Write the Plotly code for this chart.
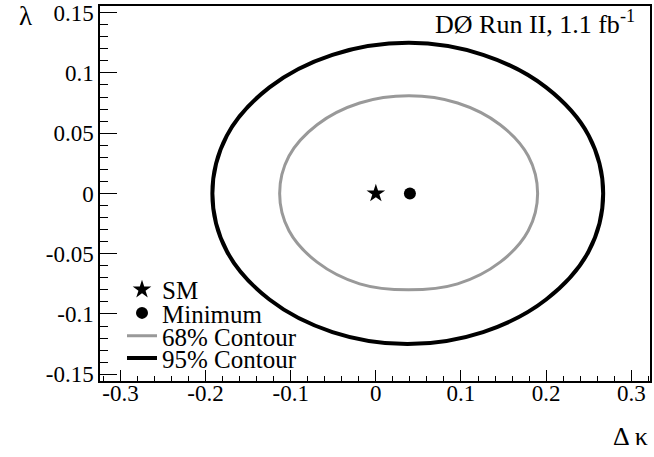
import plotly.graph_objects as go

# 95% contour points (Δκ, λ)
c95_x = [0.267, 0.250, 0.200, 0.126, 0.039, -0.051, -0.125, -0.175, -0.192,
         -0.175, -0.125, -0.051, 0.037, 0.126, 0.200, 0.250, 0.267]
c95_y = [0.0, 0.048, 0.088, 0.115, 0.125, 0.115, 0.088, 0.048, 0.0,
         -0.048, -0.088, -0.115, -0.125, -0.115, -0.088, -0.048, 0.0]

# 68% contour points
c68_x = [0.190, 0.179, 0.146, 0.096, 0.039, -0.019, -0.069, -0.102, -0.113,
         -0.102, -0.069, -0.019, 0.038, 0.096, 0.146, 0.179, 0.190]
c68_y = [0.0, 0.031, 0.057, 0.075, 0.081, 0.075, 0.057, 0.031, 0.0,
         -0.031, -0.057, -0.075, -0.080, -0.075, -0.057, -0.031, 0.0]

sm_point = ([0.0], [0.0])
min_point = ([0.04], [0.0])

x_ticks = [-0.3, -0.2, -0.1, 0, 0.1, 0.2, 0.3]
x_ticktext = ["-0.3", "-0.2", "-0.1", "0", "0.1", "0.2", "0.3"]
y_ticks = [-0.15, -0.1, -0.05, 0, 0.05, 0.1, 0.15]
y_ticktext = ["-0.15", "-0.1", "-0.05", "0", "0.05", "0.1", "0.15"]

FONT = "Liberation Serif"
LEG_FONT = dict(family=FONT, size=25, color="black")

fig = go.Figure()
fig.add_trace(go.Scatter(x=c68_x, y=c68_y, mode="lines", name="68% Contour",
                         line=dict(color="#999999", width=3, shape="spline"),
                         legend="legend3"))
fig.add_trace(go.Scatter(x=c95_x, y=c95_y, mode="lines", name="95% Contour",
                         line=dict(color="black", width=4, shape="spline"),
                         legend="legend4"))
fig.add_trace(go.Scatter(x=sm_point[0], y=sm_point[1], mode="markers", name="SM",
                         marker=dict(symbol="star", size=14, color="black"),
                         legend="legend"))
fig.add_trace(go.Scatter(x=min_point[0], y=min_point[1], mode="markers", name="Minimum",
                         marker=dict(symbol="circle", size=12, color="black"),
                         legend="legend2"))

def leg(y):
    return dict(x=0.04, y=y, xanchor="left", yanchor="middle",
                bgcolor="rgba(0,0,0,0)", font=LEG_FONT, itemwidth=30,
                borderwidth=0)

fig.update_layout(
    width=654, height=457,
    margin=dict(l=100, r=4, t=6, b=76, autoexpand=False),
    paper_bgcolor="white", plot_bgcolor="white",
    font=dict(family=FONT, size=23, color="black"),
    showlegend=True,
    legend=leg(0.243),
    legend2=leg(0.181),
    legend3=leg(0.120),
    legend4=leg(0.061),
    xaxis=dict(range=[-0.324, 0.322], tickmode="array", tickvals=x_ticks,
               ticktext=x_ticktext, ticks="inside", ticklen=11, tickwidth=1,
               tickcolor="black", showgrid=False, zeroline=False,
               showline=True, linecolor="black", linewidth=1.5, mirror=True,
               automargin=False, ticklabelstandoff=-9,
               minor=dict(dtick=0.02, tick0=0, ticks="inside", ticklen=5,
                          tickcolor="black", showgrid=False),
               tickfont=dict(family=FONT, size=23)),
    yaxis=dict(range=[-0.1556, 0.1555], tickmode="array", tickvals=y_ticks,
               ticktext=y_ticktext, ticks="inside", ticklen=17, tickwidth=1,
               tickcolor="black", showgrid=False, zeroline=False,
               showline=True, linecolor="black", linewidth=1.5, mirror=True,
               automargin=False,
               minor=dict(dtick=0.01, tick0=0, ticks="inside", ticklen=8,
                          tickcolor="black", showgrid=False),
               tickfont=dict(family=FONT, size=23)),
    annotations=[
        dict(text="λ", xref="paper", yref="paper", x=-0.135, y=0.973,
             xanchor="center", yanchor="middle", showarrow=False,
             font=dict(family=FONT, size=27)),
        dict(text="Δ κ", xref="paper", yref="paper", x=1.0, y=-0.147,
             xanchor="right", yanchor="middle", showarrow=False,
             font=dict(family=FONT, size=26)),
        dict(text="DØ Run II, 1.1 fb<sup>-1</sup>", xref="paper", yref="paper",
             x=0.977, y=0.957, xanchor="right", yanchor="middle", showarrow=False,
             font=dict(family=FONT, size=26)),
    ],
)

fig.write_html("out.html", config={"displayModeBar": False},
               post_script="document.body.style.margin='0';document.body.style.overflow='hidden';")
